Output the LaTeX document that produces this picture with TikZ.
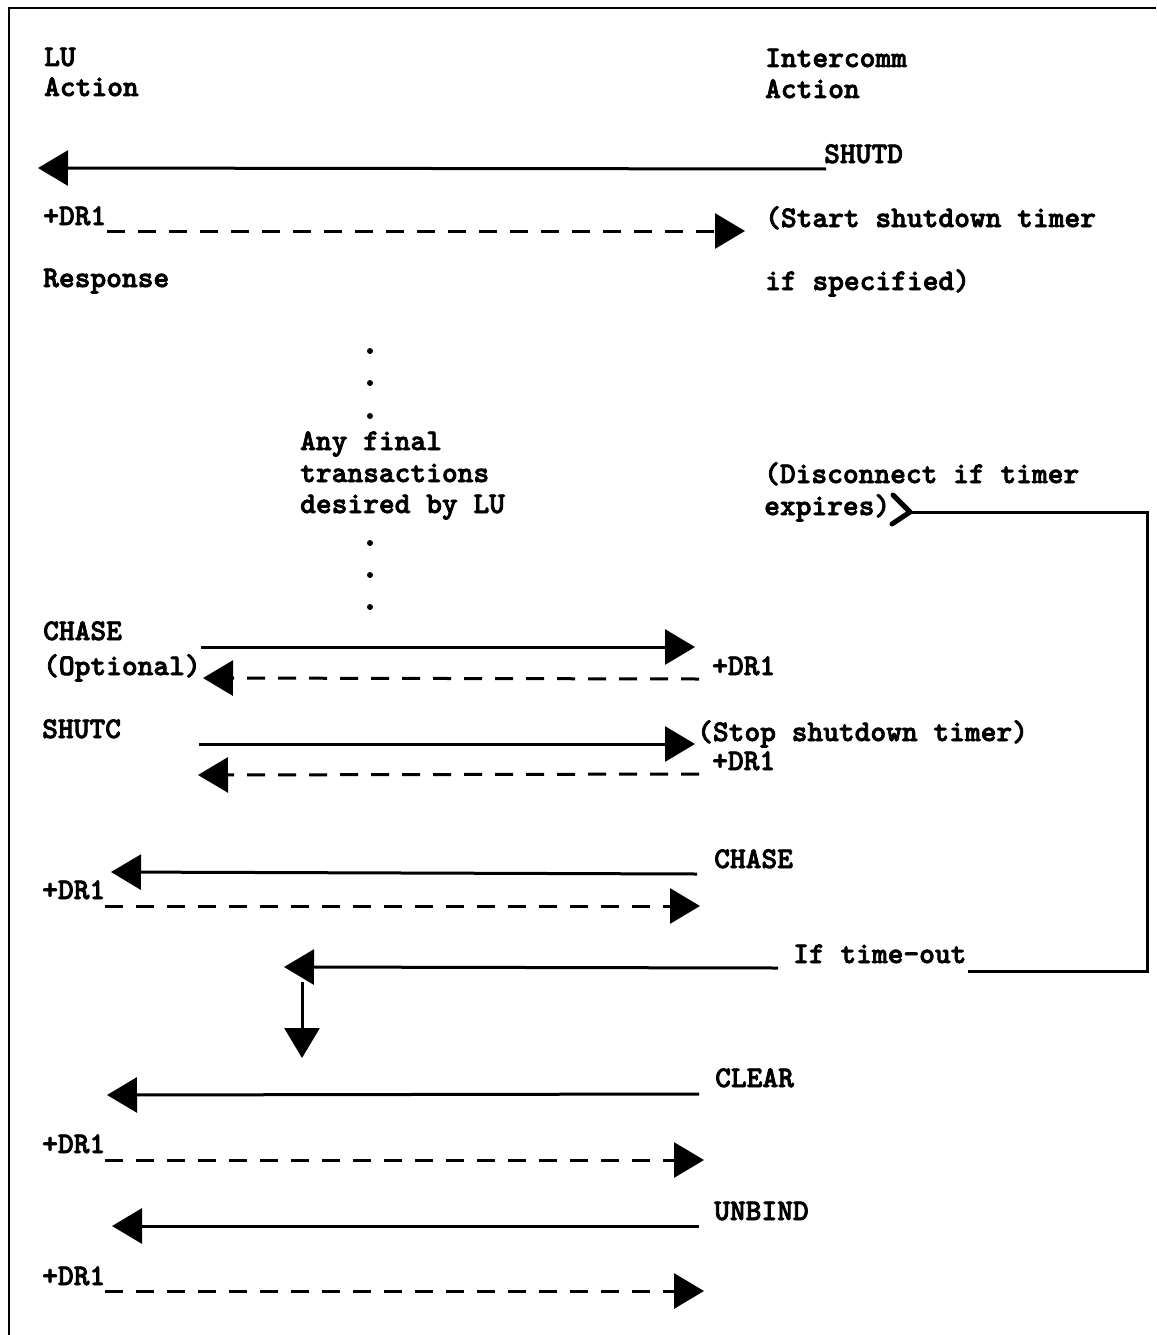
\documentclass[tikz,border=0pt]{standalone}
\usepackage{fontspec}
\newfontfamily\twfont{lmmonolt10-bold.otf}[FakeBold=2.5]
\usetikzlibrary{arrows.meta}
\tikzset{
  lbl/.style={anchor=base west, inner sep=0pt, font=\twfont\fontsize{30}{32}\selectfont},
  sig/.style={line width=3pt, -{Triangle[length=30pt,width=35pt]}},
  rsp/.style={sig, dash pattern=on 18pt off 13pt},
  plain/.style={line width=3pt},
  dotmark/.style={circle, fill=black, inner sep=0pt, minimum size=6pt},
}
\begin{document}
\begin{tikzpicture}[x=1pt,y=-1pt]
\useasboundingbox (0,0) rectangle (1156,1335);
% frame
\draw[line width=2.5pt] (1156,8) -- (9,8) -- (9,1335);

% labels
\node[lbl] (lu) at (44,66) {LU};
\node[lbl] (luact) at (44,96) {Action};
\node[lbl] (ic) at (765,67) {Intercomm};
\node[lbl] (icact) at (765,98) {Action};
\node[lbl] (shutd) at (824,163) {SHUTD};
\node[lbl] (dra) at (43,225) {+DR1};
\node[lbl] (start) at (765,227) {(Start shutdown timer};
\node[lbl] (resp) at (43,287) {Response};
\node[lbl] (ifspec) at (765,290) {if specified)};
\node[lbl] (any) at (300,450) {Any final};
\node[lbl] (trans) at (300,482) {transactions};
\node[lbl] (desired) at (300,513) {desired by LU};
\node[lbl] (disc) at (764,483) {(Disconnect if timer};
\node[lbl] (expires) at (764,515) {expires)};
\node[lbl] (chasea) at (43,640) {CHASE};
\node[lbl] (optional) at (43,675) {(Optional)};
\node[lbl] (drb) at (712,675) {+DR1};
\node[lbl] (shutc) at (42,738) {SHUTC};
\node[lbl] (stop) at (697,741) {(Stop shutdown timer)};
\node[lbl] (drc) at (712,770) {+DR1};
\node[lbl] (chaseb) at (714,868) {CHASE};
\node[lbl] (drd) at (42,899) {+DR1};
\node[lbl] (timeout) at (793,963) {If time-out};
\node[lbl] (clear) at (715,1087) {CLEAR};
\node[lbl] (dre) at (42,1153) {+DR1};
\node[lbl] (unbind) at (714,1220) {UNBIND};
\node[lbl] (drf) at (42,1285) {+DR1};

% dots
\foreach \i/\yy in {1/351,2/383,3/416,4/543,5/575,6/607}
  \node[dotmark] (dot\i) at (370,\yy) {};

% coordinates
\coordinate (s1a) at (826,169); \coordinate (s1b) at (38,168);
\coordinate (r1a) at (107,231); \coordinate (r1b) at (745,231);
\coordinate (s2a) at (201,647); \coordinate (s2b) at (695,647);
\coordinate (r2a) at (699,679); \coordinate (r2b) at (203,678);
\coordinate (s3a) at (199,744); \coordinate (s3b) at (695,744);
\coordinate (r3a) at (699,774); \coordinate (r3b) at (198,775);
\coordinate (s4a) at (697,874); \coordinate (s4b) at (111,872);
\coordinate (r4a) at (105,906); \coordinate (r4b) at (700,906);
\coordinate (s5a) at (778,968); \coordinate (s5b) at (284,967);
\coordinate (v1a) at (302,982); \coordinate (v1b) at (302,1058);
\coordinate (s6a) at (699,1094); \coordinate (s6b) at (107,1095);
\coordinate (r6a) at (105,1160); \coordinate (r6b) at (704,1160);
\coordinate (s7a) at (699,1226); \coordinate (s7b) at (112,1226);
\coordinate (r7a) at (105,1291); \coordinate (r7b) at (704,1291);
\coordinate (la) at (968,971); \coordinate (lc1) at (1147,971);
\coordinate (lc2) at (1147,512); \coordinate (lb) at (910,512);

% connectors
\draw[sig] (s1a) -- (s1b);
\draw[rsp] (r1a) -- (r1b);
\draw[sig] (s2a) -- (s2b);
\draw[rsp] (r2a) -- (r2b);
\draw[sig] (s3a) -- (s3b);
\draw[rsp] (r3a) -- (r3b);
\draw[sig] (s4a) -- (s4b);
\draw[rsp] (r4a) -- (r4b);
\draw[sig] (s5a) -- (s5b);
\draw[sig] (v1a) -- (v1b);
\draw[sig] (s6a) -- (s6b);
\draw[rsp] (r6a) -- (r6b);
\draw[sig] (s7a) -- (s7b);
\draw[rsp] (r7a) -- (r7b);
\draw[plain, line join=miter] (la) -- (lc1) -- (lc2) -- (lb);
\draw[line width=5pt, line cap=round, line join=round] (893,495) -- (lb) -- (892,524);
\end{tikzpicture}
\end{document}
